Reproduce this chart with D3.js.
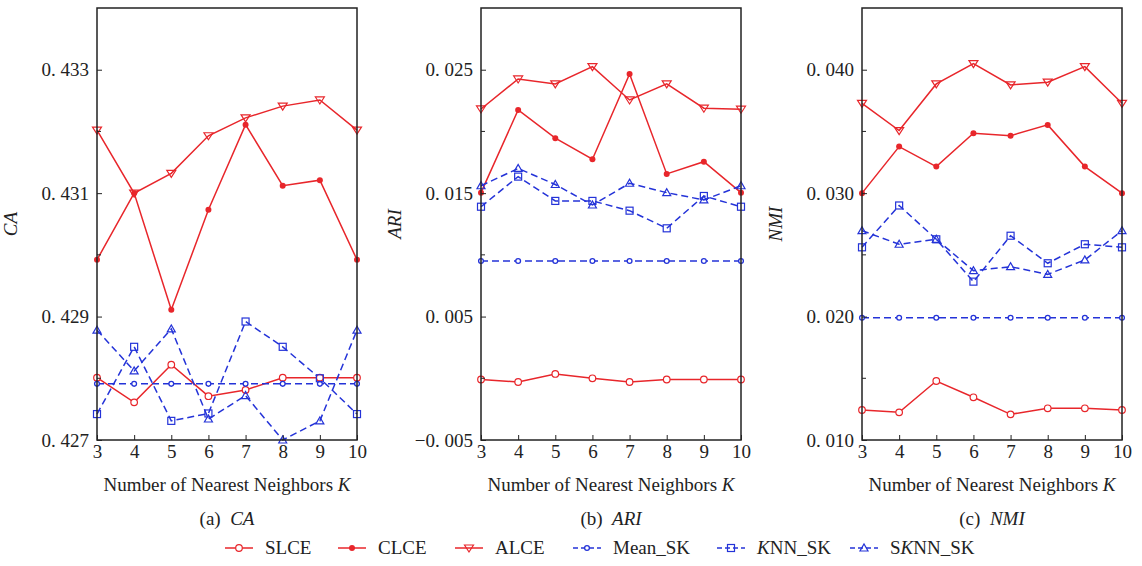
<!DOCTYPE html>
<html><head><meta charset="utf-8">
<script src="https://cdn.jsdelivr.net/npm/d3@7"></script>
<style>body{margin:0;background:#fff}svg{display:block}svg text{font-family:"Liberation Serif","Times New Roman","DejaVu Serif",serif !important;fill:#222}</style>
</head><body><svg id="c" width="1142" height="566"></svg>
<script>
const ks = [3,4,5,6,7,8,9,10];
const seriesNames = ["SLCE","CLCE","ALCE","Mean_SK","KNN_SK","SKNN_SK"];
// Panel (a) CA
const caSLCE  = [0.42801,0.42761,0.42822,0.42771,0.42781,0.42801,0.42801,0.42801];
const caCLCE  = [0.42992,0.43100,0.42911,0.43073,0.43211,0.43112,0.43121,0.42992];
const caALCE  = [0.43202,0.43100,0.43132,0.43193,0.43222,0.43241,0.43251,0.43202];
const caMean  = [0.42791,0.42791,0.42791,0.42791,0.42791,0.42791,0.42791,0.42791];
const caKNN   = [0.42742,0.42851,0.42731,0.42743,0.42892,0.42851,0.42800,0.42742];
const caSKNN  = [0.42878,0.42812,0.42880,0.42734,0.42772,0.42700,0.42731,0.42878];
// Panel (b) ARI
const ariSLCE = [-0.0001,-0.0003,0.00035,0.0000,-0.0003,-0.0001,-0.0001,-0.0001];
const ariCLCE = [0.01504,0.02174,0.01945,0.01775,0.02466,0.01656,0.01755,0.01504];
const ariALCE = [0.02182,0.02425,0.02385,0.02525,0.02255,0.02385,0.02188,0.02180];
const ariMean = [0.0095,0.0095,0.0095,0.0095,0.0095,0.0095,0.0095,0.0095];
const ariKNN  = [0.0139,0.01634,0.01437,0.01437,0.01358,0.01215,0.01477,0.0139];
const ariSKNN = [0.0156,0.0170,0.0157,0.01404,0.0158,0.01504,0.01445,0.0156];
// Panel (c) NMI
const nmiSLCE = [0.01243,0.01224,0.01478,0.01346,0.01208,0.01257,0.01257,0.01243];
const nmiCLCE = [0.0300,0.03377,0.03215,0.03485,0.03466,0.03553,0.03215,0.0300];
const nmiALCE = [0.03728,0.03507,0.03885,0.0405,0.03877,0.03899,0.04025,0.03728];
const nmiMean = [0.0199,0.0199,0.0199,0.0199,0.0199,0.0199,0.0199,0.0199];
const nmiKNN  = [0.02561,0.0290,0.02626,0.02283,0.02655,0.02432,0.02586,0.02561];
const nmiSKNN = [0.02696,0.02586,0.02626,0.02372,0.02404,0.02342,0.02459,0.02696];

const caTicks  = [0.427,0.429,0.431,0.433];
const ariTicks = [-0.005,0.005,0.015,0.025];
const nmiTicks = [0.010,0.020,0.030,0.040];
const caLabels  = ["0. 427","0. 429","0. 431","0. 433"];
const ariLabels = ["\u22120. 005","0. 005","0. 015","0. 025"];
const nmiLabels = ["0. 010","0. 020","0. 030","0. 040"];

const RED = "#e8262b", BLUE = "#2433d8";
const styles = [
  {c:RED, dash:null, m:"circleOpen"},
  {c:RED, dash:null, m:"circleFill"},
  {c:RED, dash:null, m:"triDown"},
  {c:BLUE, dash:"7,4", m:"small"},
  {c:BLUE, dash:"7,4", m:"square"},
  {c:BLUE, dash:"7,4", m:"triUp"}
];

const panels = [
  {left:97, domain:[0.427,0.434], minor:[0.428,0.430,0.432], ticks:caTicks, labels:caLabels, ylab:"CA", cap:"(a)", data:[caSLCE,caCLCE,caALCE,caMean,caKNN,caSKNN]},
  {left:481, domain:[-0.005,0.030], minor:[0.000,0.010,0.020], ticks:ariTicks, labels:ariLabels, ylab:"ARI", cap:"(b)", data:[ariSLCE,ariCLCE,ariALCE,ariMean,ariKNN,ariSKNN]},
  {left:862, domain:[0.010,0.045], minor:[0.015,0.025,0.035], ticks:nmiTicks, labels:nmiLabels, ylab:"NMI", cap:"(c)", data:[nmiSLCE,nmiCLCE,nmiALCE,nmiMean,nmiKNN,nmiSKNN]}
];
const W = 260, TOP = 8, BOT = 440;
const FS = "19px";
const svg = d3.select("#c");

function marker(g, type, x, y, c){
  if(type==="circleOpen") g.append("circle").attr("cx",x).attr("cy",y).attr("r",3.3).attr("fill","#fff").attr("stroke",c).attr("stroke-width",1.2);
  else if(type==="circleFill") g.append("circle").attr("cx",x).attr("cy",y).attr("r",3).attr("fill",c);
  else if(type==="small") g.append("circle").attr("cx",x).attr("cy",y).attr("r",2.4).attr("fill","#fff").attr("stroke",c).attr("stroke-width",1.3);
  else if(type==="square") g.append("rect").attr("x",x-3.5).attr("y",y-3.5).attr("width",7).attr("height",7).attr("fill","none").attr("stroke",c).attr("stroke-width",1.2);
  else if(type==="triDown") g.append("path").attr("d",`M${x-4.5},${y-3}L${x+4.5},${y-3}L${x},${y+4}Z`).attr("fill","none").attr("stroke",c).attr("stroke-width",1.2);
  else if(type==="triUp") g.append("path").attr("d",`M${x-4},${y+3}L${x+4},${y+3}L${x},${y-4}Z`).attr("fill","none").attr("stroke",c).attr("stroke-width",1.2);
}

panels.forEach(p=>{
  const x = d3.scaleLinear().domain([3,10]).range([p.left, p.left+W]);
  const y = d3.scaleLinear().domain(p.domain).range([BOT, TOP]);
  const g = svg.append("g");
  p.data.forEach((vals,i)=>{
    const s = styles[i];
    const line = d3.line().x((d,j)=>x(ks[j])).y(d=>y(d));
    g.append("path").attr("d",line(vals)).attr("fill","none").attr("stroke",s.c).attr("stroke-width",1.5)
      .attr("stroke-dasharray",s.dash);
  });
  p.data.forEach((vals,i)=>{
    vals.forEach((v,j)=>marker(g, styles[i].m, x(ks[j]), y(v), styles[i].c));
  });
  g.append("rect").attr("x",p.left).attr("y",TOP).attr("width",W).attr("height",BOT-TOP).attr("fill","none").attr("stroke","#222").attr("stroke-width",1.5);
  const ya = d3.axisLeft(y).tickValues(p.ticks).tickFormat((d,i)=>p.labels[i]).tickSizeInner(-5).tickSizeOuter(0).tickPadding(8);
  const yg = g.append("g").attr("transform",`translate(${p.left},0)`).call(ya);
  yg.attr("font-family",null).attr("font-size",null);
  yg.select(".domain").remove();
  yg.selectAll("text").style("font-size",FS).attr("fill","#222");
  yg.selectAll("line").attr("stroke","#222");
  p.minor.forEach(v=>g.append("line").attr("x1",p.left).attr("x2",p.left+4).attr("y1",y(v)).attr("y2",y(v)).attr("stroke","#222"));
  const xa = d3.axisBottom(x).tickValues(ks).tickFormat(d3.format("d")).tickSizeInner(-5).tickSizeOuter(0).tickPadding(5);
  const xg = g.append("g").attr("transform",`translate(0,${BOT})`).call(xa);
  xg.attr("font-family",null).attr("font-size",null);
  xg.select(".domain").remove();
  xg.selectAll("text").style("font-size",FS).attr("fill","#222");
  xg.selectAll("line").attr("stroke","#222");
  const cx = p.left + W/2;
  const t = g.append("text").attr("x",cx).attr("y",491).attr("text-anchor","middle").style("font-size",FS);
  t.append("tspan").text("Number of Nearest Neighbors ");
  t.append("tspan").attr("font-style","italic").text("K");
  g.append("text").attr("transform",`translate(${p.left-80},${(TOP+BOT)/2}) rotate(-90)`)
    .attr("text-anchor","middle").attr("font-style","italic").style("font-size",FS).text(p.ylab);
  const c = g.append("text").attr("x",cx).attr("y",525).attr("text-anchor","middle").style("font-size",FS);
  c.append("tspan").text(p.cap+"\u2002");
  c.append("tspan").attr("font-style","italic").text(p.ylab);
});

const legX = [225,338,455,573,717,850];
const legParts = [[["SLCE",false]],[["CLCE",false]],[["ALCE",false]],[["Mean_SK",false]],[["K",true],["NN_SK",false]],[["S",false],["K",true],["NN_SK",false]]];
const lg = svg.append("g");
seriesNames.forEach((n,i)=>{
  const s = styles[i], x0 = legX[i], yy = 548;
  lg.append("line").attr("x1",x0).attr("x2",x0+28).attr("y1",yy).attr("y2",yy).attr("stroke",s.c).attr("stroke-width",1.5).attr("stroke-dasharray",s.dash?"5,3":null);
  marker(lg, s.m, x0+14, yy, s.c);
  const t = lg.append("text").attr("x",x0+40).attr("y",yy+6).style("font-size","19px");
  legParts[i].forEach(([txt,it])=>t.append("tspan").attr("font-style",it?"italic":null).text(txt));
});
</script></body></html>
